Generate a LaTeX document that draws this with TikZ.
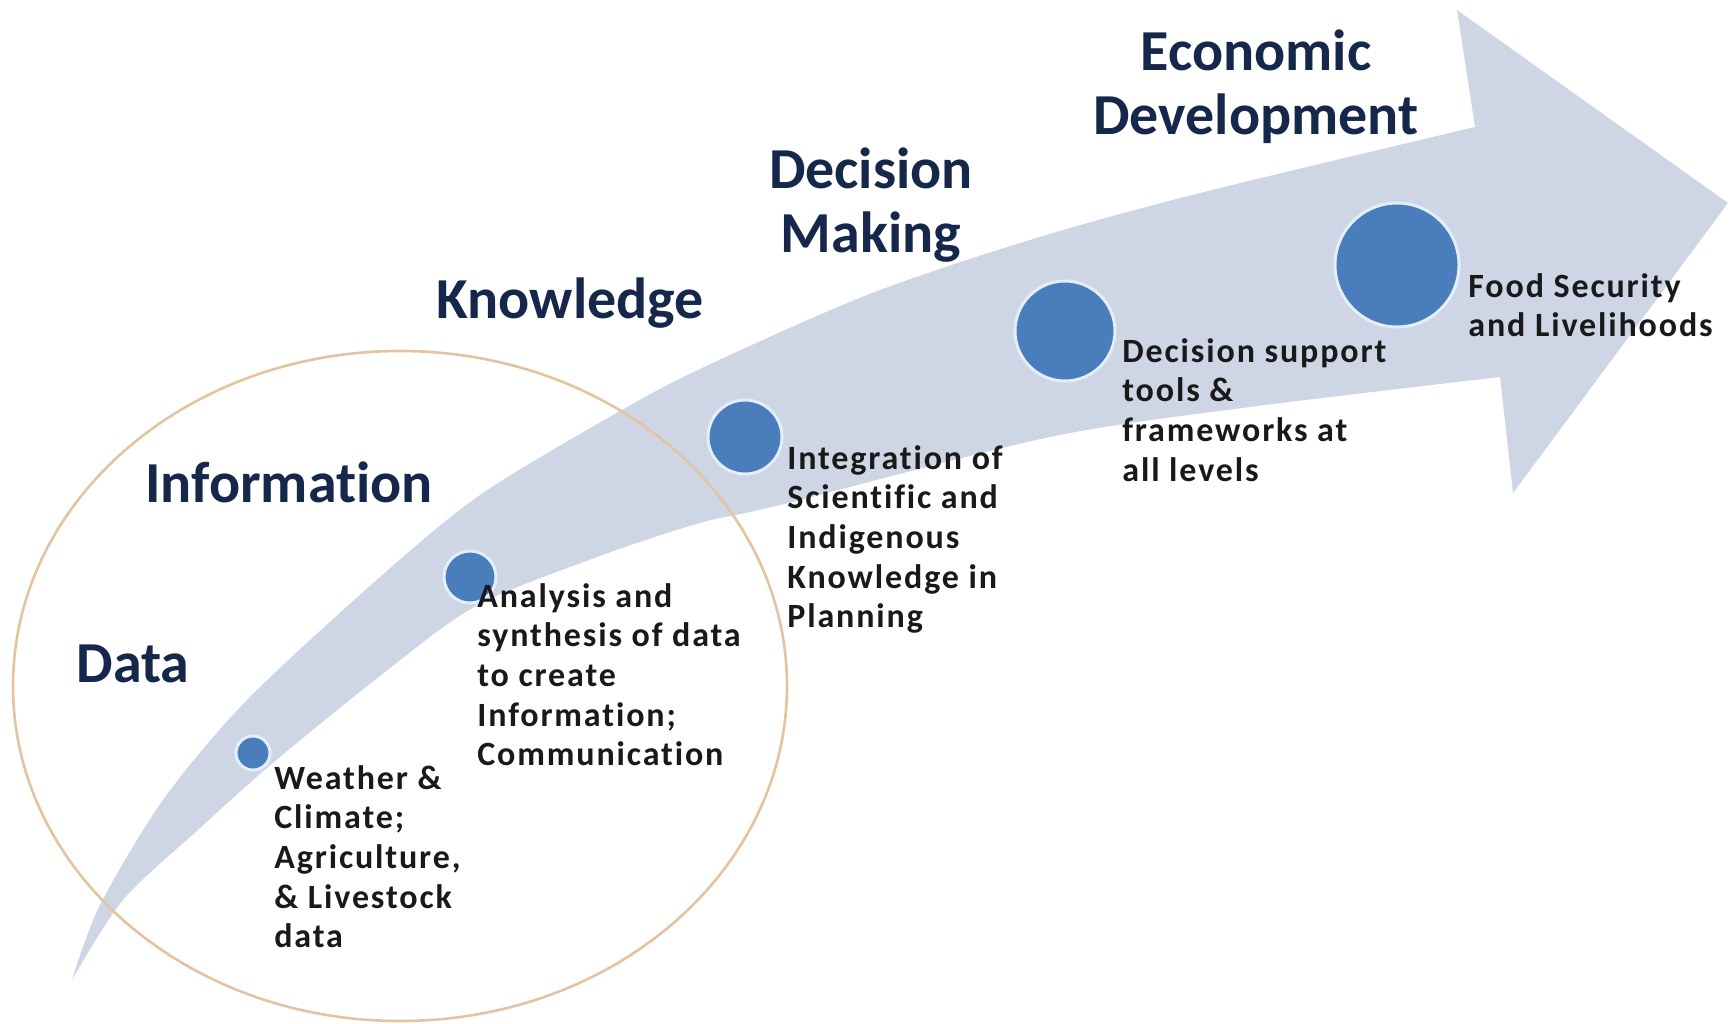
\documentclass[tikz,border=0pt]{standalone}
\usepackage{fontspec}
\setmainfont{Carlito}[Ligatures=NoCommon]
\usetikzlibrary{positioning}
\definecolor{bandfill}{RGB}{206,214,230}
\definecolor{dotfill}{RGB}{74,125,188}
\definecolor{dotring}{RGB}{226,238,249}
\definecolor{stageblue}{RGB}{21,39,74}
\definecolor{ringtan}{RGB}{228,196,160}
\tikzset{
stage/.style={font=\bfseries\fontsize{29}{32}\selectfont,text=stageblue,align=center,inner sep=0pt}
}
\tikzset{
note/.style={font=\bfseries\fontsize{17}{19.8}\selectfont\addfontfeatures{LetterSpace=5.5},text=black!90,align=left,anchor=north west,inner sep=0pt}
}
\tikzset{
dotA/.style={circle,fill=dotfill,draw=dotring,line width=1.5pt,inner sep=0pt}
}

\begin{document}
\begin{tikzpicture}[x=0.5pt,y=-0.5pt]
\useasboundingbox (0,0) rectangle (1734,1023);

\fill[bandfill] plot[smooth,tension=0.5] coordinates {(72,980) (100,905) (163,800) (247,700) (380,577) (480,495) (613,415) (700,369) (867,295) (1033,239) (1200,193) (1475,127)}
  -- (1457,10) -- (1728,203) -- (1513,493) -- (1500,377)
  -- plot[smooth,tension=0.5] coordinates {(1500,377) (1250,407) (1050,437) (780,505) (700,523) (600,556) (476,606) (380,676) (274,762) (200,828) (123,900) (72,980)} -- cycle;

\draw[ringtan,line width=1.3pt] (400,686) ellipse [x radius=387,y radius=335];

\foreach \i/\x/\y/\d in {1/253/753/17,2/470/577/26,3/745/437/37,4/1065/331/50,5/1397/265/62}
{
\node[dotA,minimum size=\d pt] (c\i) at (\x,\y) {};
}
%------------------------------------------------------------------------------------------------------------%
\node[stage,anchor=base] (data) at (133,682) {Data};
\node[stage,anchor=base] (info) at (289,502) {Information};
\node[stage,anchor=base] (know) at (570,318) {Knowledge};
\node[stage] (decide) at (871,205) {Decision\\Making};
\node[stage] (econ) at (1256,87) {Economic\\Development};

\node[note] (t1) at (274,765) {Weather \&\\Climate;\\Agriculture,\\\& Livestock\\data};
\node[note] (t2) at (477,583) {Analysis and\\synthesis of data\\to create\\Information;\\Communication};
\node[note] (t3) at (787,445) {Integration of\\Scientific and\\Indigenous\\Knowledge in\\Planning};
\node[note] (t4) at (1122,338) {Decision support\\tools \&\\frameworks at\\all levels};
\node[note] (t5) at (1468,273) {Food Security\\and Livelihoods};

\end{tikzpicture}
\end{document}
